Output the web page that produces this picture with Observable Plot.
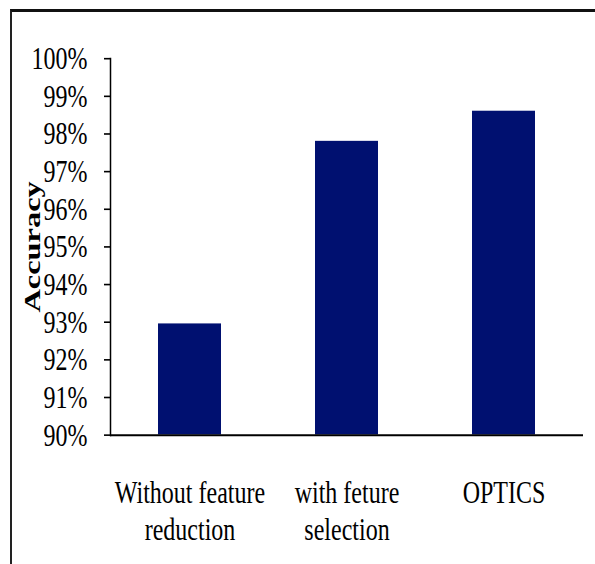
<!DOCTYPE html>
<html>
<head>
<meta charset="utf-8">
<script src="https://cdn.jsdelivr.net/npm/d3@7"></script>
<script src="https://cdn.jsdelivr.net/npm/@observablehq/plot@0.6"></script>
<style>
  html, body { margin: 0; padding: 0; background: #fff; }
  #wrap { position: relative; width: 595px; height: 564px; overflow: hidden; background: #fff; }
  #border { position: absolute; left: 10px; top: 9px; width: 700px; height: 700px;
            border-top: 3px solid #111; border-left: 2.5px solid #222; }
  #chart { position: absolute; left: 0; top: 0; }
  #chart svg text { font-family: "Liberation Serif", "Times New Roman", serif; }
</style>
</head>
<body>
<div id="wrap"><div id="border"></div><div id="chart"></div></div>
<script>
const categories = ["Without feature\nreduction", "with feture\nselection", "OPTICS"];
const accuracy = [0.9295, 0.978, 0.986];
const yTicks = [0.90, 0.91, 0.92, 0.93, 0.94, 0.95, 0.96, 0.97, 0.98, 0.99, 1.00];
const yMin = 0.90;
const yMax = 1.00;
const yLabel = "Accuracy";

const data = categories.map((c, i) => ({category: c, value: accuracy[i]}));
const pct = d3.format(".0%");
const serif = "Liberation Serif, Times New Roman, serif";

const H0 = 418;   // drawing height before the vertical stretch of the original image
const H = 564;

const svg = Plot.plot({
  width: 595,
  height: H0,
  marginTop: 43,
  marginBottom: 96,
  marginLeft: 110,
  marginRight: 12,
  style: {fontFamily: serif, fontSize: "24px", color: "#000", background: "transparent"},
  x: {domain: categories, paddingInner: 0.6, paddingOuter: 0.3, label: null},
  y: {domain: [yMin, yMax], label: null},
  marks: [
    Plot.barY(data, {x: "category", y1: () => yMin, y2: "value", fill: "#001070"}),
    Plot.ruleY([yMin], {stroke: "#000", strokeWidth: 1.5}),
    Plot.frame({anchor: "left", stroke: "#000", strokeWidth: 1.5}),
    Plot.axisY({ticks: yTicks, tickFormat: pct, tickSize: 6, tickPadding: 17, label: null, fontSize: 24, fontFamily: serif, stroke: "#000", strokeWidth: 1.2}),
    Plot.axisX({tickSize: 0, tickPadding: 30, lineHeight: 1.17, label: null, fontSize: 24, fontFamily: serif}),
    Plot.text([yLabel], {frameAnchor: "left", textAnchor: "middle", rotate: -90, dx: -78, fontWeight: "bold", fontSize: 24, fontFamily: serif, fill: "#000"})
  ]
});

svg.setAttribute("height", H);
svg.setAttribute("preserveAspectRatio", "none");
svg.style.height = H + "px";
svg.style.width = "595px";
svg.style.maxWidth = "none";
document.getElementById("chart").appendChild(svg);
</script>
</body>
</html>
